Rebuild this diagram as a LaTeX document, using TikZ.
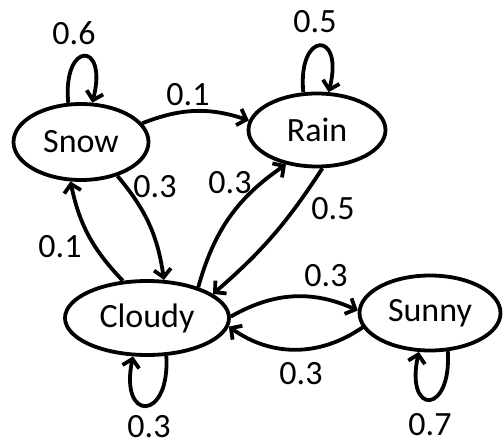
\documentclass[tikz,border=0pt]{standalone}
\usepackage{fontspec}
\setmainfont{Carlito}
\usetikzlibrary{shapes.geometric,arrows.meta}
\begin{document}
\begin{tikzpicture}[x=1pt,y=-1pt,
  state/.style={draw,ellipse,line width=3.8pt,inner sep=0pt,font=\fontsize{34}{40}\selectfont},
  lbl/.style={inner sep=0pt,font=\fontsize{34}{40}\selectfont},
  edge/.style={line width=3.8pt,-{Straight Barb[length=8pt,width=17pt,line width=3.8pt]}}]
\useasboundingbox (0,0) rectangle (503,446);
\node[state,minimum width=135pt,minimum height=76pt] (snow) at (81,142) {Snow};
\node[state,minimum width=137pt,minimum height=73pt] (rain) at (317,130) {Rain};
\node[state,minimum width=164pt,minimum height=74pt] (cloudy) at (147,318) {Cloudy};
\node[state,minimum width=141pt,minimum height=75pt] (sunny) at (430,313) {Sunny};
% loops
\draw[edge] (snow.108) .. controls +(-6,-62) and +(16,-62) .. (snow.74);
\draw[edge] (rain.110) .. controls +(-6,-62) and +(16,-62) .. (rain.73);
\draw[edge] (cloudy.-63) .. controls +(4,66) and +(-14,66) .. (cloudy.-110);
\draw[edge] (sunny.-65) .. controls +(4,64) and +(-14,64) .. (sunny.-106);
% edges
\draw[edge] (snow.17) to[bend left=20] (rain.172);
\draw[edge] (snow.-43) to[bend left=16] (cloudy.66);
\draw[edge] (cloudy.123) to[bend left=16] (snow.-105);
\draw[edge] (cloudy.31) to[bend left=20] (rain.-132);
\draw[edge] (rain.-82) to[bend left=8] (cloudy.20);
\draw[edge] (cloudy.1) to[bend left=27] (sunny.178);
\draw[edge] (sunny.-168) to[bend left=35] (cloudy.-6);
% labels
\node[lbl] (l1) at (74,33) {0.6};
\node[lbl] (l2) at (315,22) {0.5};
\node[lbl] (l3) at (188,95) {0.1};
\node[lbl] (l4) at (155,187) {0.3};
\node[lbl] (l5) at (230,183) {0.3};
\node[lbl] (l6) at (60,247) {0.1};
\node[lbl] (l7) at (333,209) {0.5};
\node[lbl] (l8) at (326,276) {0.3};
\node[lbl] (l9) at (301,374) {0.3};
\node[lbl] (l10) at (149,427) {0.3};
\node[lbl] (l11) at (430,425) {0.7};
\end{tikzpicture}
\end{document}
